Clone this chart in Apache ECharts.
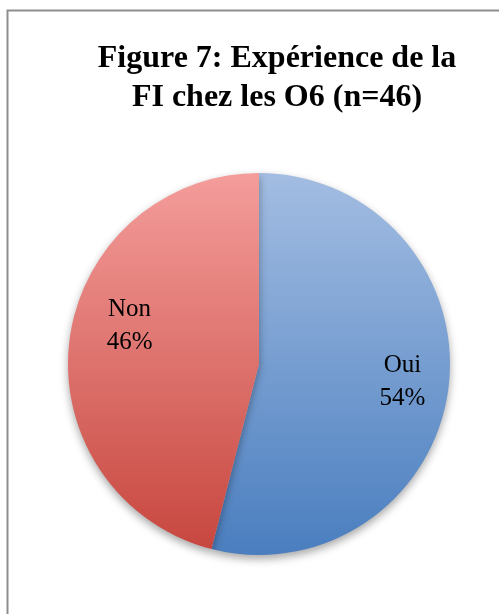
<!DOCTYPE html>
<html>
<head>
<meta charset="utf-8">
<script src="https://cdn.jsdelivr.net/npm/echarts@6/dist/echarts.min.js"></script>
<style>
  html, body { margin: 0; padding: 0; background: #fff; }
  #chart { width: 499px; height: 614px; }
</style>
</head>
<body>
<div id="chart"></div>
<script>
var categories = ['Oui', 'Non'];
var values = [54, 46];
var titleText = 'Figure 7: Expérience de la\nFI chez les O6 (n=46)';

var gradients = {
    'Oui': ['#a3bde2', '#4a7ebf'],
    'Non': ['#f49d9b', '#c7473f']
};

var myChart = echarts.init(document.getElementById('chart'));

var data = [];
for (var i = 0; i < categories.length; i++) {
    var g = gradients[categories[i]];
    data.push({
        name: categories[i],
        value: values[i],
        itemStyle: {
            color: new echarts.graphic.LinearGradient(0, 0, 0, 1, [
                {offset: 0, color: g[0]},
                {offset: 1, color: g[1]}
            ])
        }
    });
}

var center = [259, 364];
var R = 191;

var option = {
    animation: false,
    title: {
        text: titleText,
        left: 272,
        top: 34,
        textAlign: 'center',
        textStyle: {
            fontFamily: 'Liberation Serif',
            fontWeight: 'bold',
            fontSize: 32,
            lineHeight: 39,
            color: '#000'
        }
    },
    graphic: [{
        type: 'rect',
        shape: {x: 7.5, y: 10.5, width: 600, height: 700},
        style: {fill: 'none', stroke: '#8e8e8e', lineWidth: 2},
        silent: true
    }],
    series: [
        {
            type: 'pie',
            center: center,
            radius: [0, R],
            startAngle: 90,
            clockwise: true,
            label: {show: false},
            labelLine: {show: false},
            itemStyle: {
                shadowBlur: 8,
                shadowOffsetY: 4,
                shadowColor: 'rgba(0,0,0,0.35)'
            },
            data: data
        },
        {
            // transparent copy only to place labels further out
            type: 'pie',
            center: center,
            radius: [R * 0.44, R],
            startAngle: 90,
            clockwise: true,
            silent: true,
            itemStyle: {color: 'rgba(0,0,0,0)'},
            label: {
                show: true,
                position: 'inside',
                formatter: '{b}\n{d}%',
                fontFamily: 'Liberation Serif',
                fontSize: 25,
                lineHeight: 33,
                color: '#000'
            },
            labelLayout: function (p) {
                // Excel nudges the Non label up a bit
                if (p.dataIndex === 1) return {dx: 10, dy: -20};
                return {dx: 4, dy: 0};
            },
            labelLine: {show: false},
            data: categories.map(function (c, i) { return {name: c, value: values[i]}; })
        }
    ]
};

myChart.setOption(option);
window.addEventListener('resize', function () {
    myChart.resize();
});
</script>
</body>
</html>
